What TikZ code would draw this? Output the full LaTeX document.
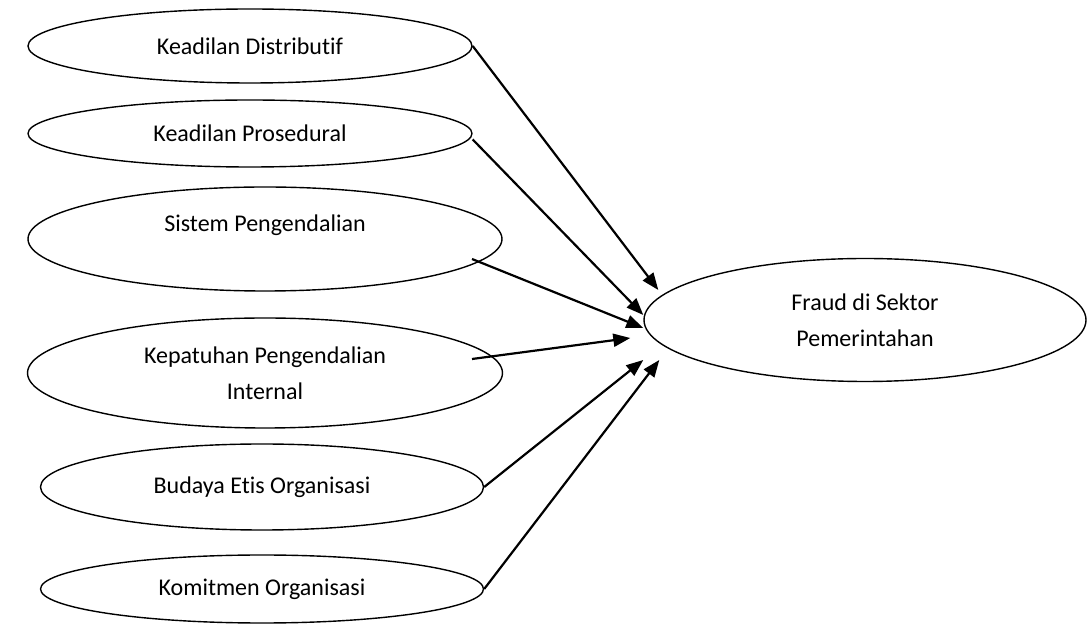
\documentclass[tikz,border=0pt]{standalone}
\usepackage{fontspec}
\setmainfont{Carlito}[Ligatures=NoCommon]
\usetikzlibrary{shapes.geometric,arrows.meta}
\begin{document}
\begin{tikzpicture}[x=0.5pt,y=-0.5pt,
    every node/.style={font=\fontsize{12}{18}\selectfont},
    var/.style={draw,ellipse,line width=0.7pt,inner sep=0pt,align=center},
    link/.style={-{Triangle[length=8.5pt,width=6.5pt]},line width=1.1pt}]
    \useasboundingbox (0,0) rectangle (1087,624);
    % variabel bebas
    \node[var,minimum width=222pt,minimum height=37pt] (dist) at (250,46) {Keadilan Distributif};
    \node[var,minimum width=222pt,minimum height=33.5pt] (pros) at (250,133.5) {Keadilan Prosedural};
    \node[var,minimum width=237pt,minimum height=52pt,
        label={[yshift=7pt]center:Sistem Pengendalian}] (sis) at (265,239) {};
    \node[var,minimum width=237.5pt,minimum height=55pt] (kep) at (265,373) {Kepatuhan Pengendalian\\Internal};
    \node[var,minimum width=221.5pt,minimum height=43pt] (bud) at (262,487) {Budaya Etis Organisasi};
    \node[var,minimum width=221.5pt,minimum height=34pt] (kom) at (262,589) {Komitmen Organisasi};
    % variabel terikat
    \node[var,minimum width=221pt,minimum height=61.5pt] (fraud) at (865,320) {Fraud di Sektor\\Pemerintahan};
    \coordinate (sisout) at (472,259);
    \coordinate (kepout) at (472,359);
    \draw[link] (dist.east) -- ([shift={(15,-30)}]fraud.west);
    \draw[link] ([yshift=-3pt]pros.east) -- ([shift={(0,-5)}]fraud.west);
    \draw[link] (sisout) -- ([shift={(0,8)}]fraud.west);
    \draw[link] (kepout) -- ([shift={(-13,18)}]fraud.west);
    \draw[link] (bud.east) -- ([shift={(0,40)}]fraud.west);
    \draw[link] (kom.east) -- ([shift={(16,40)}]fraud.west);
\end{tikzpicture}
\end{document}
